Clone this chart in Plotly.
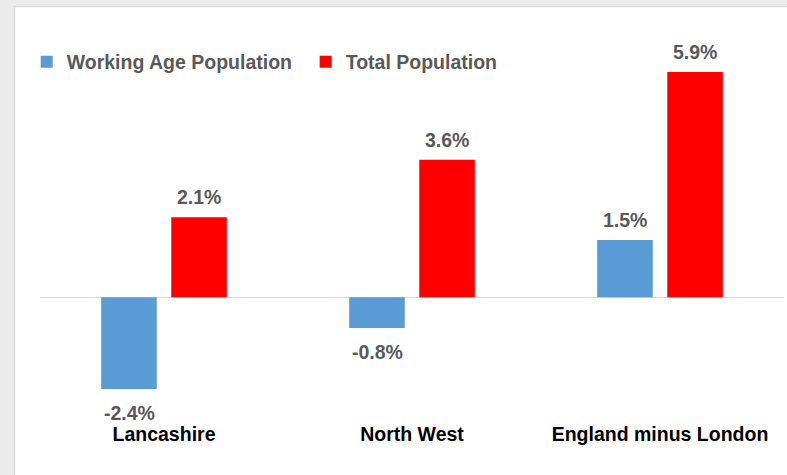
import plotly.graph_objects as go

categories = ["Lancashire", "North West", "England minus London"]
working_age = [-2.4, -0.8, 1.5]
total_pop = [2.1, 3.6, 5.9]
series_names = ["Working Age Population", "Total Population"]
colors = ["#5b9bd5", "#ff0000"]

W, H = 787, 475
L, R, T, B = 40, 3, 20, 55
PW, PH = W - L - R, H - T - B
Y_RANGE = [-3.21, 7.26]
FONT = "Arial, 'Liberation Sans', sans-serif"


def px_x(px):
    return (px - L) / PW


def px_y(py):
    return (H - B - py) / PH


fig = go.Figure()
for name, vals, col in zip(series_names, [working_age, total_pop], colors):
    fig.add_trace(go.Bar(x=categories, y=vals, name=name, marker=dict(color=col, line=dict(width=0))))

annotations = []
for si, vals in enumerate([working_age, total_pop]):
    for cat, v in zip(categories, vals):
        annotations.append(dict(
            x=cat, y=v, xref="x", yref="y", text=f"{v:.1f}%", showarrow=False,
            xanchor="center", yanchor="middle",
            xshift=(-35 if si == 0 else 35), yshift=(20 if v >= 0 else -24),
            font=dict(family=FONT, size=19.5, color="#595959", weight="bold"),
        ))

fig.update_layout(
    width=W, height=H,
    margin=dict(l=L, r=R, t=T, b=B, pad=0, autoexpand=False),
    paper_bgcolor="#ebebeb",
    plot_bgcolor="rgba(0,0,0,0)",
    barmode="group", bargap=0.435, bargroupgap=0.207,
    showlegend=True,
    legend=dict(orientation="h", xref="container", yref="container",
                x=26.7 / W, y=1 - 42.5 / H, xanchor="left", yanchor="top",
                entrywidth=234, entrywidthmode="pixels",
                font=dict(family=FONT, size=19.5, color="#595959", weight="bold"),
                bgcolor="rgba(0,0,0,0)", traceorder="normal"),
    xaxis=dict(showgrid=False, showline=False, ticks="", zeroline=False,
               tickfont=dict(family=FONT, size=19.5, color="#000000", weight="bold")),
    yaxis=dict(range=Y_RANGE, showgrid=False, showticklabels=False, ticks="",
               zeroline=True, zerolinecolor="#d9d9d9", zerolinewidth=1, showline=False),
    annotations=annotations,
    shapes=[dict(type="rect", xref="paper", yref="paper",
                 x0=px_x(14.5), x1=px_x(800), y0=px_y(490), y1=px_y(6.5),
                 fillcolor="#ffffff", line=dict(color="#d9d9d9", width=1.5), layer="below")],
)

fig.write_html(
    "out.html",
    config={"displayModeBar": False},
    post_script="document.body.style.margin='0';document.body.style.overflow='hidden';",
)
